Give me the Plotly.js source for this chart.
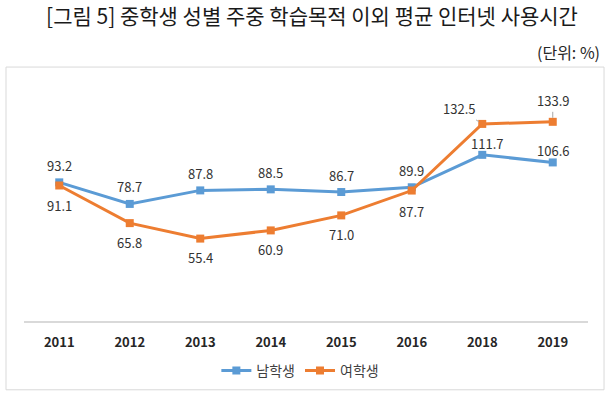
<!DOCTYPE html>
<html>
<head>
<meta charset="utf-8">
<script src="https://cdn.plot.ly/plotly-3.0.1.min.js"></script>
<style>
  html, body { margin: 0; padding: 0; background: #fff; }
  #chart { width: 606px; height: 399px; }
</style>
</head>
<body>
<div id="chart"></div>
<script>
// ---- data ----
const years = ['2011', '2012', '2013', '2014', '2015', '2016', '2018', '2019'];
const boys = [93.2, 78.7, 87.8, 88.5, 86.7, 89.9, 111.7, 106.6];
const girls = [91.1, 65.8, 55.4, 60.9, 71.0, 87.7, 132.5, 133.9];
const seriesNames = ['남학생', '여학생'];
const titleText = '[그림 5] 중학생 성별 주중 학습목적 이외 평균 인터넷 사용시간';
const unitText = '(단위: %)';

// ---- styling ----
const BLUE = '#5B9BD5';
const ORANGE = '#ED7D31';
const FONT = '"Noto Sans CJK KR", "Noto Sans", sans-serif';
const LABEL_COLOR = '#333333';

// label placement (pixels, style only)
const boyShiftY = [17, 17, 17, 17, 17, 17, 11, 12];
const boyShiftX = [0, 0, 0, 0, 0, 0, 5, 0];
const girlShiftY = [-20, -19, -19, -19, -19, -21, 0, 0];
const girlArrow = { 6: { ax: -23, ay: -15 }, 7: { ax: 0, ay: -21 } };

const traces = [
  {
    x: years, y: boys, name: seriesNames[0], type: 'scatter', mode: 'lines+markers',
    line: { color: BLUE, width: 3 },
    marker: { symbol: 'square', size: 8, color: BLUE },
    hoverinfo: 'skip'
  },
  {
    x: years, y: girls, name: seriesNames[1], type: 'scatter', mode: 'lines+markers',
    line: { color: ORANGE, width: 3 },
    marker: { symbol: 'square', size: 8, color: ORANGE },
    hoverinfo: 'skip'
  }
];

const annotations = [];
years.forEach((yr, i) => {
  // category axes position annotations by category index
  annotations.push({
    x: i, y: boys[i], xref: 'x', yref: 'y',
    text: boys[i].toFixed(1), showarrow: false,
    xshift: boyShiftX[i], yshift: boyShiftY[i],
    font: { family: FONT, size: 13, color: LABEL_COLOR }
  });
  if (girlArrow[i]) {
    annotations.push({
      x: i, y: girls[i], xref: 'x', yref: 'y',
      text: girls[i].toFixed(1), showarrow: true,
      ax: girlArrow[i].ax, ay: girlArrow[i].ay,
      arrowhead: 0, arrowwidth: 1, arrowcolor: '#a6a6a6', standoff: 4,
      font: { family: FONT, size: 13, color: LABEL_COLOR }
    });
  } else {
    annotations.push({
      x: i, y: girls[i], xref: 'x', yref: 'y',
      text: girls[i].toFixed(1), showarrow: false,
      yshift: girlShiftY[i],
      font: { family: FONT, size: 13, color: LABEL_COLOR }
    });
  }
});

annotations.push({
  text: unitText, xref: 'paper', yref: 'paper',
  x: 1.0248, y: 1.129, xanchor: 'right', yanchor: 'middle',
  showarrow: false,
  font: { family: FONT, size: 16, color: '#262626' }
});

const layout = {
  width: 606, height: 399,
  margin: { l: 24, r: 18, t: 83, b: 74 },
  paper_bgcolor: '#ffffff', plot_bgcolor: '#ffffff',
  title: {
    text: titleText,
    x: 312 / 606, xanchor: 'center', xref: 'container',
    y: 1 - 17 / 399, yanchor: 'middle', yref: 'container',
    font: { family: FONT, size: 21, color: '#1a1a1a' }
  },
  xaxis: {
    type: 'category', range: [-0.5, 7.5],
    showline: true, linecolor: '#d9d9d9', linewidth: 2,
    showgrid: false, zeroline: false, ticks: '',
    ticklabelstandoff: 8,
    tickfont: { family: FONT, size: 13, color: '#262626', weight: 'bold' },
    fixedrange: true
  },
  yaxis: {
    range: [0, 160], visible: false, showgrid: false, zeroline: false, fixedrange: true
  },
  showlegend: true,
  legend: {
    orientation: 'h', x: 0.49, xanchor: 'center', y: -0.21, yanchor: 'middle',
    font: { family: FONT, size: 14, color: '#404040' },
    itemwidth: 30, tracegroupgap: 0
  },
  shapes: [{
    type: 'rect', xref: 'paper', yref: 'paper',
    x0: -0.0319, x1: 1.0284, y0: -0.289, y1: 1.067,
    line: { color: '#d9d9d9', width: 1 }, fillcolor: 'rgba(0,0,0,0)', layer: 'below'
  }],
  annotations: annotations
};

Plotly.newPlot('chart', traces, layout, { displayModeBar: false, staticPlot: true });
</script>
</body>
</html>
